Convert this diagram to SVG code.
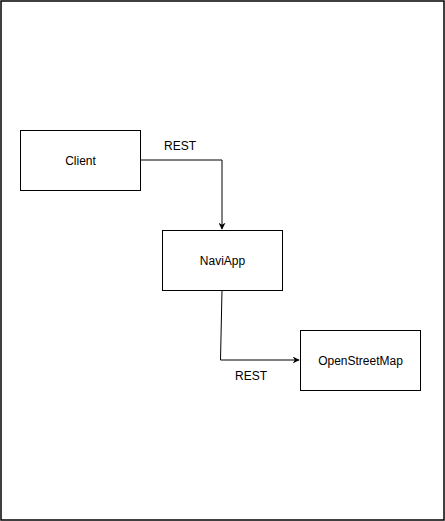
<svg xmlns="http://www.w3.org/2000/svg" width="445" height="521" viewBox="0 0 445 521">
<style>
.box{fill:#fff;stroke:#000;stroke-width:1}
.t{font-family:"Liberation Sans",Arial,sans-serif;font-size:12px;fill:#000;text-anchor:middle;dominant-baseline:central}
.c{fill:none;stroke:#000;stroke-width:1}
</style>
<defs>
<marker id="arr" viewBox="0 0 10 10" refX="9" refY="5" markerWidth="7" markerHeight="7" markerUnits="userSpaceOnUse" orient="auto">
<path d="M0,0 L10,5 L0,10 L3,5 Z" fill="#000"/>
</marker>
</defs>
<rect x="0" y="0" width="445" height="521" fill="#fff"/>
<rect id="frame" x="1" y="1" width="443" height="519" fill="none" stroke="#000" stroke-width="1.5"/>
<g id="connectors">
<path class="c" d="M140,160 H222 V229" marker-end="url(#arr)"/>
<path class="c" d="M222,290 L220.5,360 H299" marker-end="url(#arr)"/>
<text class="t" x="180" y="146">REST</text>
<text class="t" x="251" y="376">REST</text>
</g>
<g id="client">
<rect class="box" x="20.5" y="130.5" width="120" height="60"/>
<text class="t" x="80.5" y="160.5">Client</text>
</g>
<g id="naviapp">
<rect class="box" x="162.5" y="230.5" width="120" height="60"/>
<text class="t" x="222.5" y="260.5">NaviApp</text>
</g>
<g id="osm">
<rect class="box" x="300.5" y="330.5" width="120" height="60"/>
<text class="t" x="360.5" y="360.5">OpenStreetMap</text>
</g>
</svg>
